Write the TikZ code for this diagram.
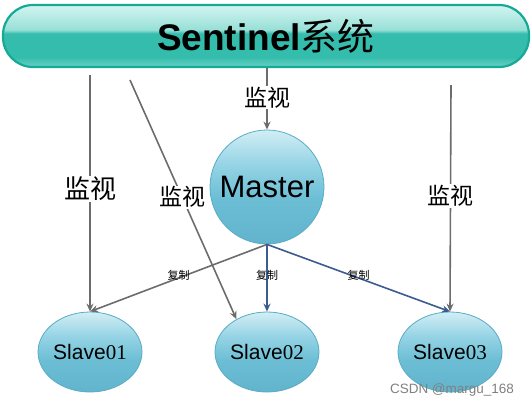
\documentclass[tikz,border=0pt]{standalone}
\usepackage{fontspec}
\setmainfont{Liberation Sans}
\newfontfamily\cjk{Noto Sans CJK SC}
\newfontfamily\numfont{Liberation Serif}
\usetikzlibrary{arrows.meta, positioning, shapes.geometric}
\definecolor{BarEdge}{RGB}{22, 170, 150}
\definecolor{BarTop}{RGB}{212, 244, 240}
\definecolor{BarGloss}{RGB}{150, 224, 215}
\definecolor{BarMid}{RGB}{52, 188, 172}
\definecolor{BarLow}{RGB}{105, 210, 198}
\definecolor{BallEdge}{RGB}{88, 172, 198}
\definecolor{BallTop}{RGB}{210, 238, 245}
\definecolor{BallGloss}{RGB}{150, 212, 229}
\definecolor{BallMid}{RGB}{108, 190, 213}
\definecolor{BallLow}{RGB}{98, 180, 205}
\definecolor{WatchGray}{RGB}{108, 108, 108}
\definecolor{CopyBlue}{RGB}{58, 92, 142}
\pgfdeclareverticalshading{barshade}{100bp}{color(0bp)=(BarLow); color(25bp)=(BarLow); color(33bp)=(BarMid); color(52bp)=(BarMid); color(55bp)=(BarGloss); color(75bp)=(BarTop); color(100bp)=(BarTop)}
\pgfdeclareverticalshading{ballshade}{100bp}{color(0bp)=(BallLow); color(25bp)=(BallLow); color(45bp)=(BallMid); color(60bp)=(BallGloss); color(75bp)=(BallTop); color(100bp)=(BallTop)}

\begin{document}
\begin{tikzpicture}[x=1pt, y=-1pt,
    bar/.style={draw=BarEdge, line width=2.2pt, rounded corners=30pt, minimum width=526pt, minimum height=62pt, inner sep=0pt, shading=barshade},
    ball/.style={draw=BallEdge, line width=0.8pt, shading=ballshade, inner sep=0pt},
    slave/.style={ball, ellipse, minimum height=80pt, font=\fontsize{21}{24}\selectfont},
    watch/.style={-{Stealth[length=8pt, width=7pt]}, color=WatchGray, line width=1.6pt},
    copyline/.style={-{Stealth[length=8pt, width=7pt]}, line width=1.6pt},
    watchlabel/.style={fill=white, text=black, inner sep=1pt, font=\cjk\fontsize{23}{26}\selectfont},
    copylabel/.style={text=black, inner sep=0pt, font=\cjk\fontsize{11}{12}\selectfont}]
    \useasboundingbox (0,0) rectangle (532,408);

    % sentinel bar and servers
    \node[bar] (sys) at (266,36) {\fontsize{37}{40}\selectfont\textbf{Sentinel}{\cjk 系统}};
    \node[ball, circle, minimum size=114pt, font=\fontsize{31}{34}\selectfont] (m) at (267,187) {Master};
    \node[slave, minimum width=96pt] (s1) at (90,352) {Slave{\numfont 01}};
    \node[slave, minimum width=90pt] (s2) at (267,352) {Slave{\numfont 02}};
    \node[slave, minimum width=92pt] (s3) at (450,352) {Slave{\numfont 03}};

    % start points under the bar
    \coordinate (w1) at (90,75);
    \coordinate (w2) at (130,80);
    \coordinate (w3) at (451,85);

    % monitoring
    \draw[watch] (sys.south -| m) -- (m.north) node[watchlabel, midway, yshift=1pt]{监视};
    \draw[watch] (w1) -- (s1.north) node[watchlabel, pos=0.48, font=\cjk\fontsize{26}{28}\selectfont]{监视};
    \draw[watch] (w2) -- (s2.133) node[watchlabel, pos=0.49]{监视};
    \draw[watch] (w3) -- (s3.north) node[watchlabel, pos=0.49]{监视};

    % replication
    \draw[copyline, color=WatchGray] (m.south) -- (s1.north) node[copylabel, midway, yshift=3pt]{复制};
    \draw[copyline, color=CopyBlue] (m.south) -- (s2.north) node[copylabel, midway, yshift=3pt]{复制};
    \draw[copyline, color=CopyBlue] (m.south) -- (s3.north) node[copylabel, midway, yshift=3pt]{复制};

    \node[font=\fontsize{13.5}{15}\selectfont, color=gray] (mark) at (452,390) {CSDN @margu\_168};
\end{tikzpicture}
\end{document}
